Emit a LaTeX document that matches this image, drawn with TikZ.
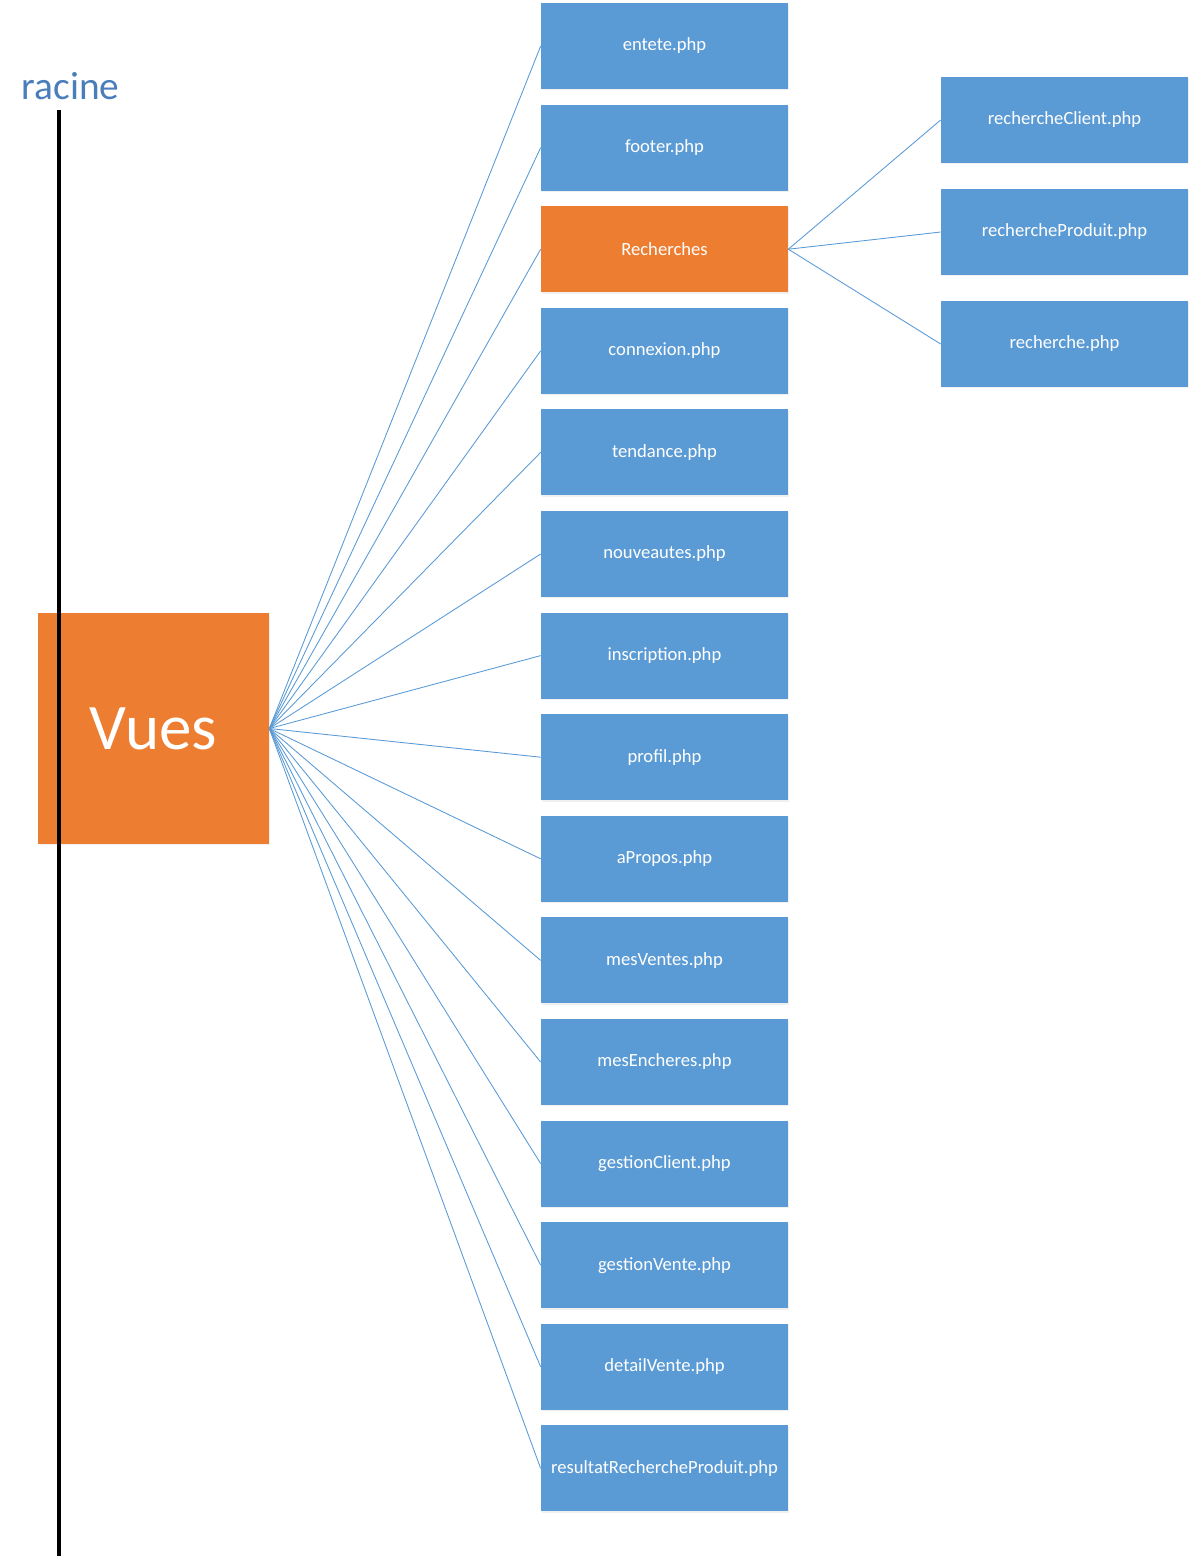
\documentclass[tikz,border=0pt]{standalone}
\usepackage{fontspec}
\setmainfont{Carlito}
\usetikzlibrary{positioning,shadows}
\definecolor{fileB}{HTML}{5B9BD5}
\definecolor{dirO}{HTML}{ED7D31}
\definecolor{rootT}{HTML}{4A7EBB}
\definecolor{link}{HTML}{5B9BD5}

\begin{document}
\begin{tikzpicture}[
    x=0.02cm, y=-0.02cm,
    file/.style={fill=fileB, text=white, minimum width=4.94cm, minimum height=1.72cm,
                 inner sep=0pt, font=\fontsize{10.6}{12}\selectfont,
                 drop shadow={opacity=0.12, shadow xshift=0.3pt, shadow yshift=-0.8pt}},
    dir/.style={file, fill=dirO},
    top/.style={fill=dirO, text=white, minimum width=4.62cm, minimum height=4.62cm,
                inner sep=0pt, font=\fontsize{37}{40}\selectfont,
                drop shadow={opacity=0.12, shadow xshift=0.3pt, shadow yshift=-0.8pt}},
    rel/.style={draw=link, line width=0.5pt},
  ]
  \useasboundingbox (0,0) rectangle (1194,1556);

  % the root folder and its axis
  \node[text=rootT, font=\fontsize{22.4}{25}\selectfont] (racine) at (70.5,86) {racine};
  \coordinate (axisT) at (59,110);
  \coordinate (axisB) at (59,1556);

  % the views folder
  \node[top] (vues) at (153.5,728.5) {Vues};
  \draw[black, line width=1.8pt] (axisT) -- (axisB);

  % its files, one column
  \foreach \name/\label [count=\i from 0] in {entete/entete.php, footer/footer.php,
      rech/Recherches, connexion/connexion.php, tendance/tendance.php,
      nouveautes/nouveautes.php, inscription/inscription.php, profil/profil.php,
      apropos/aPropos.php, ventes/mesVentes.php, encheres/mesEncheres.php,
      gclient/gestionClient.php, gvente/gestionVente.php, detail/detailVente.php,
      resultat/resultatRechercheProduit.php}{
    \ifnum\i=2
      \node[dir] (\name) at (664.5,46+101.6*\i) {\label};
    \else
      \node[file] (\name) at (664.5,46+101.6*\i) {\label};
    \fi
    \draw[rel] (vues.east) -- (\name.west);
  }

  % the search sub-folder
  \node[file] (rclient)  at (1064.5,120) {rechercheClient.php};
  \node[file] (rproduit) at (1064.5,232) {rechercheProduit.php};
  \node[file] (rsimple)  at (1064.5,344) {recherche.php};
  \draw[rel] (rech.east) -- (rclient.west);
  \draw[rel] (rech.east) -- (rproduit.west);
  \draw[rel] (rech.east) -- (rsimple.west);
\end{tikzpicture}
\end{document}
